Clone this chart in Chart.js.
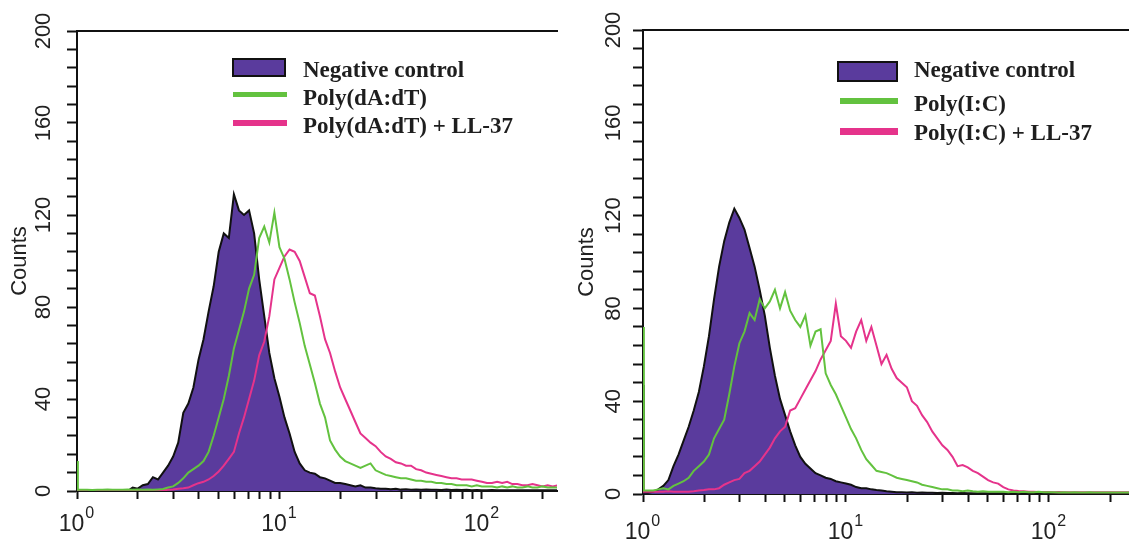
<!DOCTYPE html>
<html>
<head>
<meta charset="utf-8">
<title>Flow cytometry histograms</title>
<script src="https://cdn.jsdelivr.net/npm/chart.js@4.4.1/dist/chart.umd.min.js"></script>
<style>
    body { margin: 0; background: #fff; }
    #page { position: relative; width: 1129px; height: 542px; overflow: hidden; background: #fff; }
    .panel { position: absolute; top: 0; }
    .legend { position: absolute; top: 0; left: 0; font-family: "Liberation Serif", "Times New Roman", serif; font-weight: bold; font-size: 23px; line-height: 23px; color: #1e1e1e; }
    .legend .txt { position: absolute; white-space: nowrap; }
    .legend .sw { position: absolute; }
</style>
</head>
<body>
<div id="page">
    <canvas id="leftChart" class="panel" width="565" height="542" style="left:0px"></canvas>
    <canvas id="rightChart" class="panel" width="564" height="542" style="left:565px"></canvas>
    <div id="leftLegend" class="legend"></div>
    <div id="rightLegend" class="legend"></div>
</div>
<script>
// channel positions (fluorescence intensity) shared by every histogram
const xChannels = [1, 1.01, 1.059, 1.122, 1.189, 1.259, 1.334, 1.413, 1.496, 1.585, 1.679, 1.778, 1.884, 1.995, 2.113, 2.239, 2.371, 2.512, 2.661, 2.818, 2.985,
    3.162, 3.35, 3.548, 3.758, 3.981, 4.217, 4.467, 4.732, 5.012, 5.309, 5.623, 5.957, 6.31, 6.683, 7.079, 7.499, 7.943, 8.414, 8.913, 9.441,
    10, 10.59, 11.22, 11.89, 12.59, 13.34, 14.13, 14.96, 15.85, 16.79, 17.78, 18.84, 19.95, 21.13, 22.39, 23.71, 25.12, 26.61, 28.18, 29.85,
    31.62, 33.5, 35.48, 37.58, 39.81, 42.17, 44.67, 47.32, 50.12, 53.09, 56.23, 59.57, 63.1, 66.83, 70.79, 74.99, 79.43, 84.14, 89.13, 94.41,
    100, 105.9, 112.2, 118.9, 125.9, 133.4, 141.3, 149.6, 158.5, 167.9, 177.8, 188.4, 199.5, 211.3, 223.9, 237.1, 251.2];

// left panel: Poly(dA:dT)
const leftNegative = [0, 0,
    0, 0, 0, 0, 0, 0, 0, 0, 0, 0,
    1.5, 1, 2.5, 3, 6, 5, 8, 11, 15, 21,
    34, 38, 45, 57, 66, 78, 89, 104, 112, 110,
    129, 122, 120, 122, 112, 92, 76, 60, 49, 41,
    32, 25, 17, 12, 9, 8, 7.5, 6, 5.5, 4.5,
    3.5, 3.5, 3, 2.5, 2, 2.5, 1.5, 1.5, 1.2, 1,
    1, 0.8, 1, 0.6, 0.8, 0.5, 0.7, 0.5, 0.6, 0.5,
    0.5, 0.4, 0.6, 0.4, 0.5, 0.4, 0.5, 0.3, 0.4, 0.3,
    0.3, 0.4, 0.3, 0.3, 0.3, 0.3, 0.3, 0.3, 0.3, 0.3,
    0.3, 0.3, 0.3, 0.3, 0.3, 0.3];
const leftPolyDADT = [13, 0.5,
    0.5, 0.5, 0.4, 0.5, 0.5, 0.6, 0.5, 0.5, 0.5, 0.6,
    0.5, 0.6, 0.5, 0.6, 0.5, 0.7, 0.9, 1.5, 2, 3.5,
    5.5, 8, 9.5, 11, 13, 17, 24, 32, 40, 50,
    62, 70, 78, 88, 94, 110, 115, 108, 121, 106,
    101, 92, 82, 73, 63, 55, 47, 38, 32, 22,
    18, 15, 13, 12, 11, 10, 11, 12, 9, 8,
    7, 6.5, 6, 5.5, 5.5, 5, 4.5, 4.5, 4, 4,
    3.5, 3.5, 3, 3, 2.5, 2.5, 2.5, 2, 2.5, 2,
    2, 2, 1.5, 2, 1.5, 2, 1.5, 1.5, 2, 1.5,
    1.5, 2, 1.5, 1.5, 1.5, 1.5];
const leftPolyDADTLL37 = [0.3, 0.3,
    0.3, 0.3, 0.3, 0.3, 0.3, 0.3, 0.3, 0.3, 0.3, 0.3,
    0.3, 0.3, 0.3, 0.3, 0.3, 0.3, 0.3, 0.5, 0.7, 1,
    1.2, 1.5, 2.5, 3.4, 4, 5, 6.5, 8.5, 11, 14,
    17, 25, 32, 40, 48, 59, 65, 76, 92, 97,
    102, 105, 104, 100, 93, 86, 85, 76, 66, 60,
    52, 45, 40, 35, 30, 25, 23, 21, 19.5, 17,
    15, 14, 12.5, 12, 11, 11, 9.5, 9, 8, 7.5,
    7, 6.5, 6, 5.5, 5.5, 5, 5, 5, 4.5, 4,
    3.5, 3.5, 4, 3.5, 4, 3, 3, 2.5, 2.5, 3,
    2.5, 2, 2.5, 2, 2.5, 2];

// right panel: Poly(I:C)
const rightNegative = [47, 0.5,
    0.5, 1, 2, 3.5, 6, 12, 17, 23, 29, 36,
    44, 55, 68, 84, 98, 109, 117, 123, 119, 114,
    106, 98, 88, 77, 63, 51, 41, 34, 27, 21,
    16, 13, 11, 9, 8, 7, 6.5, 5.5, 5, 4.5,
    4, 3, 2.5, 2.5, 2, 1.7, 1.5, 1.2, 1, 0.8,
    0.8, 0.6, 0.7, 0.5, 0.6, 0.5, 0.5, 0.4, 0.5, 0.4,
    0.4, 0.3, 0.4, 0.3, 0.3, 0.3, 0.3, 0.3, 0.3, 0.3,
    0.3, 0.3, 0.3, 0.3, 0.3, 0.3, 0.3, 0.3, 0.3, 0.3,
    0.3, 0.3, 0.3, 0.3, 0.3, 0.3, 0.3, 0.3, 0.3, 0.3,
    0.3, 0.3, 0.3, 0.3, 0.3, 0.3];
const rightPolyIC = [72, 1.5,
    1.5, 1.5, 2, 2.5, 2, 3.5, 4.5, 5.5, 7, 10,
    12, 14, 17, 24, 28, 32, 43, 55, 65, 70,
    78, 75, 84, 80, 83, 88, 80, 87, 79, 75,
    72, 77, 64, 70, 71, 52, 47, 43, 38, 33,
    28, 24, 19, 15, 12.5, 10, 9.5, 9, 8, 7,
    6.5, 6, 5.5, 5, 4, 3.5, 3, 2.5, 2, 2,
    1.5, 1.5, 1.2, 1.5, 1.2, 1, 1.2, 1, 1, 1,
    1, 0.8, 1, 0.8, 1, 0.8, 0.8, 1, 0.8, 0.8,
    0.8, 0.7, 0.8, 0.7, 0.8, 0.7, 0.7, 0.8, 0.7, 0.7,
    0.7, 0.7, 0.7, 0.7, 0.7, 0.7];
const rightPolyICLL37 = [16, 1,
    1, 1, 1, 1, 1.2, 1, 1, 1, 1, 1.2,
    1.5, 1.7, 2, 2, 2.5, 4, 5, 6, 6.5, 9,
    10, 12, 14, 17, 20, 24, 27, 29, 36, 37,
    41, 45, 49, 53, 58, 62, 66, 82, 68, 66,
    63, 70, 75, 66, 72, 64, 56, 60, 54, 50,
    48, 46, 40, 38, 34, 31, 27, 24, 21, 19,
    16, 12, 12.5, 11.5, 10, 9, 7.5, 6, 5, 4.5,
    3, 2, 1.5, 1.3, 1.2, 1, 1, 0.9, 0.9, 0.9,
    0.8, 0.9, 0.8, 0.8, 0.8, 0.8, 0.8, 0.8, 0.8, 0.8,
    0.8, 0.8, 0.8, 0.8, 0.8, 0.8];

const xTickValues = [1, 2, 3, 4, 5, 6, 7, 8, 9, 10, 20, 30, 40, 50, 60, 70, 80, 90, 100, 200];
// labelled decades: base "10" with its exponent as a superscript
const xDecadeValues = [1, 10, 100];
const xDecadeExponents = ["0", "1", "2"];
const yTickValues = [0, 8, 16, 24, 32, 40, 48, 56, 64, 72, 80, 88, 96, 104, 112, 120, 128, 136, 144, 152, 160, 168, 176, 184, 192, 200];
const yLabelValues = [0, 40, 80, 120, 160, 200];

const leftLabels = ["Negative control", "Poly(dA:dT)", "Poly(dA:dT) + LL-37"];
const rightLabels = ["Negative control", "Poly(I:C)", "Poly(I:C) + LL-37"];

const purpleFill = "#5a3b9d";
const greenLine = "#63c23f";
const pinkLine = "#e5338b";

document.addEventListener("DOMContentLoaded", function() {
    const sansFont = "'Liberation Sans', Arial, Helvetica, sans-serif";

    function toPoints(values) {
        return xChannels.map((x, i) => ({ x: x, y: values[i] }));
    }

    // draws 10^n labels under the x axis at the scale's own pixel positions
    const decadeLabels = {
        id: "decadeLabels",
        afterDraw(chart, args, opts) {
            const scale = chart.scales.x;
            const c = chart.ctx;
            c.save();
            c.fillStyle = "#222";
            c.textBaseline = "alphabetic";
            xDecadeValues.forEach((v, i) => {
                const px = scale.getPixelForValue(v);
                c.font = "23px " + sansFont;
                const wBase = c.measureText("10").width;
                c.font = "16px " + sansFont;
                const wExp = c.measureText(xDecadeExponents[i]).width;
                const x0 = px - (wBase + wExp) / 2 - 1;
                c.font = "23px " + sansFont;
                c.fillText("10", x0, scale.top + opts.baseDrop);
                c.font = "16px " + sansFont;
                c.fillText(xDecadeExponents[i], x0 + wBase + 1, scale.top + opts.baseDrop - 13);
            });
            c.restore();
        }
    };

    function renderPanel(canvasId, series, labels, layout) {
        const ctx = document.getElementById(canvasId).getContext("2d");
        const lineCommon = { borderWidth: 2, pointRadius: 0, tension: 0 };
        return new Chart(ctx, {
            type: "line",
            data: {
                datasets: [
                    Object.assign({
                        label: labels[1],
                        data: toPoints(series[1]),
                        borderColor: greenLine,
                        fill: false,
                        order: 1
                    }, lineCommon),
                    Object.assign({
                        label: labels[2],
                        data: toPoints(series[2]),
                        borderColor: pinkLine,
                        fill: false,
                        order: 2
                    }, lineCommon),
                    Object.assign({
                        label: labels[0],
                        data: toPoints(series[0]),
                        borderColor: "#111",
                        backgroundColor: purpleFill,
                        fill: "origin",
                        order: 3
                    }, lineCommon)
                ]
            },
            plugins: [decadeLabels],
            options: {
                responsive: false,
                animation: false,
                devicePixelRatio: 1,
                layout: { padding: { top: layout.top, right: layout.right, left: 0, bottom: 0 } },
                plugins: {
                    legend: { display: false },
                    tooltip: { enabled: false },
                    decadeLabels: { baseDrop: layout.baseDrop }
                },
                scales: {
                    x: {
                        type: "logarithmic",
                        min: 1,
                        max: layout.xMax,
                        afterBuildTicks: s => { s.ticks = xTickValues.map(v => ({ value: v })); },
                        afterFit: s => { s.height = layout.bottom; },
                        ticks: { autoSkip: false, minRotation: 0, maxRotation: 0, callback: () => "" },
                        grid: { drawOnChartArea: false, tickLength: 8, tickColor: "#111", tickWidth: 2 },
                        border: { display: true, color: "#111", width: 2 }
                    },
                    xTop: {
                        type: "logarithmic",
                        position: "top",
                        min: 1,
                        max: layout.xMax,
                        afterFit: s => { s.height = 0; },
                        ticks: { display: false },
                        grid: { display: false, drawTicks: false },
                        border: { display: true, color: "#111", width: 2 }
                    },
                    y: {
                        min: 0,
                        max: 200,
                        afterBuildTicks: s => { s.ticks = yTickValues.map(v => ({ value: v })); },
                        afterFit: s => { s.width = layout.axisWidth; },
                        ticks: {
                            autoSkip: false,
                            minRotation: 90,
                            maxRotation: 90,
                            crossAlign: "center",
                            padding: layout.yPad,
                            color: "#222",
                            font: { family: sansFont, size: 22 },
                            callback: v => yLabelValues.includes(v) ? String(v) : ""
                        },
                        grid: { drawOnChartArea: false, tickLength: 10, tickColor: "#111", tickWidth: 2 },
                        border: { color: "#111", width: 2 },
                        title: {
                            display: true,
                            text: "Counts",
                            color: "#222",
                            font: { family: sansFont, size: 22 },
                            padding: { top: layout.titlePad, bottom: 0 }
                        }
                    }
                }
            }
        });
    }

    // legend built from the dataset colours, placed inside the plot like the original
    function renderLegend(elId, labels, spec) {
        const el = document.getElementById(elId);
        const colors = [purpleFill, greenLine, pinkLine];
        labels.forEach((text, i) => {
            const sw = document.createElement("div");
            sw.className = "sw";
            const s = spec.swatches[i];
            sw.style.left = s[0] + "px";
            sw.style.top = s[1] + "px";
            sw.style.width = s[2] + "px";
            sw.style.height = s[3] + "px";
            sw.style.background = colors[i];
            if (i === 0) {
                sw.style.boxSizing = "border-box";
                sw.style.border = "2px solid #111";
            }
            el.appendChild(sw);

            const t = document.createElement("div");
            t.className = "txt";
            t.textContent = text;
            t.style.left = spec.textX + "px";
            t.style.top = spec.textTops[i] + "px";
            el.appendChild(t);
        });
    }

    renderPanel("leftChart", [leftNegative, leftPolyDADT, leftPolyDADTLL37], leftLabels,
        { top: 31, right: 8, bottom: 51, axisWidth: 77, xMax: 235, baseDrop: 40, yPad: 5, titlePad: 7 });
    renderPanel("rightChart", [rightNegative, rightPolyIC, rightPolyICLL37], rightLabels,
        { top: 30, right: 0, bottom: 48, axisWidth: 78, xMax: 248, baseDrop: 45, yPad: 1, titlePad: 9 });

    renderLegend("leftLegend", leftLabels, {
        swatches: [[232, 58, 54, 19], [233, 92, 54, 5], [233, 120, 54, 6]],
        textX: 303,
        textTops: [58, 86, 114]
    });
    renderLegend("rightLegend", rightLabels, {
        swatches: [[837, 61, 61, 21], [840, 98, 58, 6], [840, 128, 58, 7]],
        textX: 914,
        textTops: [58, 92, 121]
    });
});
</script>
</body>
</html>
